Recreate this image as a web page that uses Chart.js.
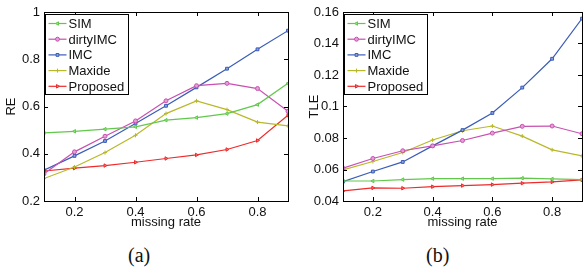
<!DOCTYPE html>
<html>
<head>
<meta charset="utf-8">
<script src="https://cdn.jsdelivr.net/npm/chart.js@4/dist/chart.umd.min.js"></script>
<style>
  body { margin: 0; background: #fff; width: 587px; height: 270px; position: relative; overflow: hidden; }
  .panel { position: absolute; top: 0; height: 240px; }
  .cap { position: absolute; top: 244px; font: 20px "Liberation Serif", serif; color: #111; }
</style>
</head>
<body>
<div class="panel" style="left:0;width:293px"><canvas id="reChart"></canvas></div>
<div class="panel" style="left:295px;width:292px"><canvas id="tleChart"></canvas></div>
<div class="cap" style="left:128px">(a)</div>
<div class="cap" style="left:426px">(b)</div>
<script>
// missing rate on the x axis
const missingRate = [0.1, 0.2, 0.3, 0.4, 0.5, 0.6, 0.7, 0.8, 0.9];
const xTicks = [0.2, 0.4, 0.6, 0.8];
const methods = ['SIM', 'dirtyIMC', 'IMC', 'Maxide', 'Proposed'];

// (a) RE
const reSIM      = [0.488, 0.495, 0.504, 0.514, 0.542, 0.553, 0.570, 0.608, 0.698];
const reDirty    = [0.315, 0.408, 0.474, 0.539, 0.624, 0.688, 0.698, 0.676, 0.580];
const reIMC      = [0.330, 0.391, 0.454, 0.528, 0.603, 0.681, 0.760, 0.842, 0.921];
const reMaxide   = [0.295, 0.344, 0.405, 0.478, 0.570, 0.624, 0.587, 0.534, 0.518];
const reProposed = [0.327, 0.339, 0.350, 0.364, 0.380, 0.395, 0.418, 0.456, 0.563];

// (b) TLE
const tleSIM      = [0.0527, 0.0527, 0.0536, 0.0542, 0.0542, 0.0542, 0.0545, 0.0540, 0.0536];
const tleDirty    = [0.0608, 0.0670, 0.0719, 0.0750, 0.0784, 0.0831, 0.0874, 0.0876, 0.0827];
const tleIMC      = [0.0523, 0.0587, 0.0648, 0.0750, 0.0850, 0.0959, 0.1120, 0.1303, 0.1558];
const tleMaxide   = [0.0597, 0.0651, 0.0708, 0.0787, 0.0846, 0.0876, 0.0812, 0.0725, 0.0687];
const tleProposed = [0.0464, 0.0483, 0.0481, 0.0491, 0.0498, 0.0504, 0.0513, 0.0521, 0.0534];

const colors = ['#62c84c', '#c850b0', '#3a5cb8', '#b8b828', '#ee2a2a'];
const fills = ['#9be08a', '#e3a0d6', '#8fa3dc', '#d8d880', '#f47a7a'];
const markers = ['triangle', 'circle', 'rect', 'cross', 'triangle'];
const rotations = [-90, 0, 0, 0, 90];

const FONT = '"Liberation Sans", Arial, sans-serif';

// matlab style box, inner ticks and legend
const boxPlugin = {
  id: 'box',
  afterDraw(chart) {
    const ctx = chart.ctx, a = chart.chartArea;
    const xs = chart.scales.x, ys = chart.scales.y;
    ctx.save();
    ctx.strokeStyle = '#000';
    ctx.lineWidth = 1;
    ctx.strokeRect(Math.round(a.left) + 0.5, Math.round(a.top) + 0.5,
                   Math.round(a.right - a.left), Math.round(a.bottom - a.top));
    ctx.beginPath();
    xs.ticks.forEach(t => {
      const px = Math.round(xs.getPixelForValue(t.value)) + 0.5;
      ctx.moveTo(px, a.bottom); ctx.lineTo(px, a.bottom - 4);
      ctx.moveTo(px, a.top); ctx.lineTo(px, a.top + 4);
    });
    ys.ticks.forEach(t => {
      const py = Math.round(ys.getPixelForValue(t.value)) + 0.5;
      ctx.moveTo(a.left, py); ctx.lineTo(a.left + 4, py);
      ctx.moveTo(a.right, py); ctx.lineTo(a.right - 4, py);
    });
    ctx.stroke();

    // legend
    ctx.font = '13px ' + FONT;
    const maxW = Math.max(...methods.map(m => ctx.measureText(m).width));
    const bx = Math.round(a.left) + 1.5, by = Math.round(a.top) + 2.5;
    const bw = Math.round(23 + maxW + 4), bh = 80;
    ctx.fillStyle = '#fff';
    ctx.fillRect(bx, by, bw, bh);
    ctx.strokeStyle = '#000';
    ctx.strokeRect(bx, by, bw, bh);
    chart.data.datasets.forEach((ds, i) => {
      const y = by + 9 + i * 15.7;
      ctx.strokeStyle = ds.borderColor;
      ctx.lineWidth = 1.2;
      ctx.beginPath();
      ctx.moveTo(bx + 3, y); ctx.lineTo(bx + 21, y);
      ctx.stroke();
      ctx.fillStyle = ds.pointBackgroundColor;
      ctx.lineWidth = 1;
      Chart.helpers.drawPoint(ctx, {
        pointStyle: ds.pointStyle, rotation: ds.pointRotation,
        radius: ds.pointRadius, borderWidth: 1
      }, bx + 12, y);
      ctx.fillStyle = '#111';
      ctx.textBaseline = 'middle';
      ctx.fillText(ds.label, bx + 23, y + 1);
    });
    ctx.restore();
  }
};

function makeChart(id, series, yMin, yMax, yStep, yTitle, yWidth, titlePad, padRight) {
  return new Chart(document.getElementById(id), {
    type: 'line',
    data: {
      datasets: series.map((vals, i) => ({
        label: methods[i],
        data: vals.map((v, k) => ({ x: missingRate[k], y: v })),
        borderColor: colors[i],
        backgroundColor: colors[i],
        pointBackgroundColor: fills[i],
        borderWidth: 1.2,
        pointStyle: markers[i],
        pointRotation: rotations[i],
        pointRadius: 2,
        pointBorderWidth: 1,
        tension: 0
      }))
    },
    options: {
      responsive: true,
      maintainAspectRatio: false,
      animation: false,
      layout: { padding: { top: 12, right: padRight, left: 0, bottom: 0 } },
      plugins: { legend: { display: false }, tooltip: { enabled: false } },
      scales: {
        x: {
          type: 'linear', min: 0.1, max: 0.9,
          grid: { display: false, drawTicks: false },
          border: { display: false },
          afterBuildTicks: s => { s.ticks = xTicks.map(v => ({ value: v })); },
          afterFit: s => { s.height = 39; },
          ticks: { padding: 4, color: '#111', font: { family: FONT, size: 13 },
                   callback: v => String(v) },
          title: { display: true, text: 'missing rate', color: '#111',
                   font: { family: FONT, size: 13 }, padding: { top: 0, bottom: 10 } }
        },
        y: {
          min: yMin, max: yMax,
          grid: { display: false, drawTicks: false },
          border: { display: false },
          afterFit: s => { s.width = yWidth; },
          ticks: { stepSize: yStep, padding: 4, color: '#111', font: { family: FONT, size: 13 },
                   callback: v => String(Number(v.toFixed(2))) },
          title: { display: true, text: yTitle, color: '#111',
                   font: { family: FONT, size: 13 }, padding: { top: titlePad, bottom: 0 } }
        }
      }
    },
    plugins: [boxPlugin]
  });
}

makeChart('reChart', [reSIM, reDirty, reIMC, reMaxide, reProposed],
          0.2, 1, 0.2, 'RE', 44, 4, 3);
makeChart('tleChart', [tleSIM, tleDirty, tleIMC, tleMaxide, tleProposed],
          0.04, 0.16, 0.02, 'TLE', 48, 12, 0);
</script>
</body>
</html>
